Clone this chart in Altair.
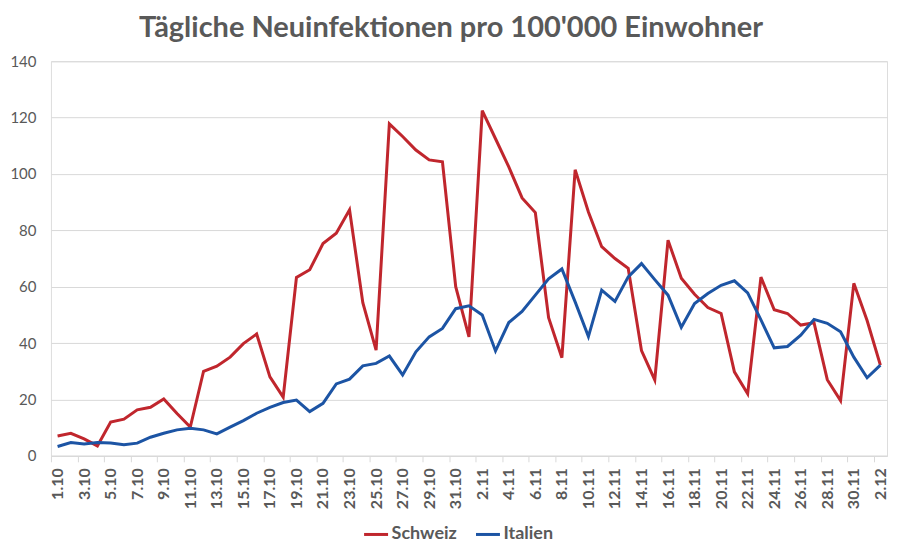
import altair as alt
import pandas as pd

dates = [f"{d}.10" for d in range(1, 32)] + [f"{d}.11" for d in range(1, 31)] + ["1.12", "2.12"]

schweiz = [7, 8, 6, 3.5, 12, 13, 16.3, 17.2, 20.2, 15, 10.2, 30, 31.8, 35, 39.8, 43.2, 28, 20.8,
           63.3, 66, 75.3, 79, 87.3, 54.3, 37.5, 117.8, 113.3, 108.5, 105, 104.3, 60, 42.2,
           122.5, 112.5, 102.5, 91.5, 86.3, 49, 34.8, 101.5, 86.5, 74.2, 70, 66.5, 37.3, 26.9,
           76.5, 63, 57.3, 52.6, 50.5, 29.8, 22, 63.4, 51.8, 50.5, 46.4, 47.2, 27, 19.6,
           61.2, 48, 32.2]

italien = [3.3, 4.7, 4.2, 4.7, 4.5, 3.9, 4.5, 6.6, 8, 9.2, 9.8, 9.2, 7.8, 10.2, 12.5, 15.1, 17.2,
           18.9, 19.8, 15.7, 18.6, 25.5, 27.2, 31.9, 32.8, 35.4, 28.7, 36.9, 42.2, 45.2, 52.2,
           53.2, 50, 37.2, 47.3, 51.2, 57, 62.8, 66.3, 54.6, 42.3, 58.8, 54.8, 63.5, 68.2, 62.5,
           57, 45.6, 54, 57.6, 60.5, 62.1, 57.8, 48.2, 38.3, 38.8, 42.8, 48.4, 47, 44, 35,
           27.7, 32.2]

series_names = ["Schweiz", "Italien"]
series_colors = ["#c0262d", "#1c54a4"]
label_dates = dates[::2]
y_ticks = [0, 20, 40, 60, 80, 100, 120, 140]

rows = []
for name, vals in zip(series_names, [schweiz, italien]):
    for d, v in zip(dates, vals):
        rows.append({"Datum": d, "Wert": v, "Land": name})
df = pd.DataFrame(rows)

grey = "#595959"

chart = alt.Chart(df).mark_line(strokeWidth=3).encode(
    x=alt.X("Datum:O", sort=dates,
            scale=alt.Scale(type="point", padding=0.5),
            axis=alt.Axis(values=label_dates, labelAngle=-90, labelFontWeight="bold",
                          labelFontSize=16, labelColor=grey, labelFont="Lato",
                          tickColor="#d9d9d9", tickSize=6, tickOffset=-6.64, labelOffset=6.64,
                          labelPadding=6, domainColor="#d9d9d9", grid=False, title=None,
                          labelOverlap=False)),
    y=alt.Y("Wert:Q", scale=alt.Scale(domain=[0, 140], nice=False),
            axis=alt.Axis(values=y_ticks, labelFontSize=15, labelColor=grey, labelFont="Lato",
                          labelPadding=15, ticks=False, domain=False, gridColor="#d9d9d9",
                          title=None)),
    color=alt.Color("Land:N", sort=series_names,
                    scale=alt.Scale(domain=series_names, range=series_colors),
                    legend=alt.Legend(orient="none", legendX=312, legendY=460, direction="horizontal",
                                      title=None, symbolType="stroke", symbolStrokeWidth=3,
                                      symbolSize=576, labelFontSize=18, labelFontWeight="bold",
                                      labelColor=grey, labelFont="Lato", columnPadding=12,
                                      labelOffset=2)),
).properties(
    width=837, height=395,
    title=alt.TitleParams("Tägliche Neuinfektionen pro 100'000 Einwohner", font="Lato",
                          fontSize=29, fontWeight="bold", color=grey, anchor="middle",
                          dx=-18, offset=11),
    autosize=alt.AutoSizeParams(type="none"),
    padding={"left": 43, "top": 53, "right": 5, "bottom": 95},
).configure_view(stroke=None).configure(background="white")

chart.save("out.html", embed_options={"renderer": "svg", "actions": False})
